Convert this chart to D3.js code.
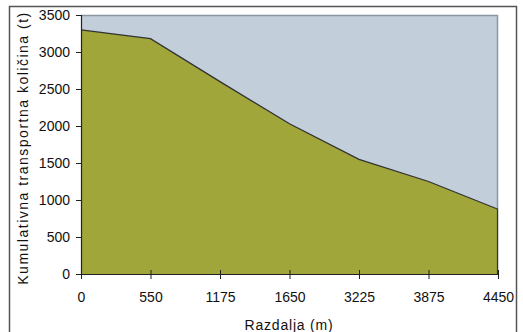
<!DOCTYPE html>
<html><head><meta charset="utf-8">
<script src="https://cdn.jsdelivr.net/npm/d3@7"></script>
<style>body{margin:0;background:#fff}svg{display:block}text{font-family:"Liberation Sans",Arial,sans-serif}</style>
</head><body><div id="c"></div>
<script>
const categories = ["0","550","1175","1650","3225","3875","4450"];
const values = [3300,3180,2600,2030,1550,1250,875];
const yTicks = [0,500,1000,1500,2000,2500,3000,3500];
const xTitle = "Razdalja (m)";
const yTitle = "Kumulativna transportna količina (t)";

const W=523,H=332;
const m={l:81,t:15,r:498,b:274};
const svg=d3.select("#c").append("svg").attr("width",W).attr("height",H);
svg.append("rect").attr("x",9.5).attr("y",6.5).attr("width",507).attr("height",340)
  .attr("fill","#fff").attr("stroke","#555").attr("stroke-width",1.5);

const x=d3.scalePoint().domain(categories).range([m.l,m.r]);
const y=d3.scaleLinear().domain([0,3500]).range([m.b,m.t]);

svg.append("rect").attr("x",m.l).attr("y",m.t).attr("width",m.r-m.l).attr("height",m.b-m.t)
  .attr("fill","#c2cfdb");
svg.append("path").attr("d",`M${m.l},${m.t+0.5}H${m.r-0.5}V${m.b}`).attr("fill","none")
  .attr("stroke","#8a96a2").attr("stroke-width",1.5);

const data=categories.map((c,i)=>({c,v:values[i]}));
const area=d3.area().x(d=>x(d.c)).y0(y(0)).y1(d=>y(d.v));
svg.append("path").datum(data).attr("d",area).attr("fill","#a0a63a");
const line=d3.line().x(d=>x(d.c)).y(d=>y(d.v));
svg.append("path").datum(data).attr("d",line).attr("fill","none").attr("stroke","#333").attr("stroke-width",1.3);
svg.append("line").attr("x1",m.r-0.5).attr("x2",m.r-0.5).attr("y1",y(values[values.length-1])).attr("y2",m.b)
  .attr("stroke","#333").attr("stroke-width",1.2);

const ya=svg.append("g").attr("transform",`translate(${m.l},0)`)
  .call(d3.axisLeft(y).tickValues(yTicks).tickSize(5).tickPadding(6).tickFormat(d3.format("d")));
ya.select(".domain").attr("stroke","#222").attr("stroke-width",1.2);
ya.selectAll(".tick line").attr("stroke","#222");
ya.selectAll("text").attr("font-size",14).attr("fill","#111").attr("font-family","Liberation Sans, Arial, sans-serif");

const xa=svg.append("g").attr("transform",`translate(0,${m.b})`)
  .call(d3.axisBottom(x).tickSizeInner(5).tickSizeOuter(0).tickPadding(13));
xa.select(".domain").attr("stroke","#222").attr("stroke-width",1.2);
xa.selectAll(".tick line").attr("stroke","#222").attr("y1",-4).attr("y2",5);
xa.selectAll("text").attr("font-size",14).attr("fill","#111").attr("font-family","Liberation Sans, Arial, sans-serif");

svg.append("text").attr("x",289).attr("y",330).attr("text-anchor","middle")
  .attr("font-size",14).attr("letter-spacing",0.8).attr("fill","#111").text(xTitle);
svg.append("text").attr("transform",`translate(28,148) rotate(-90)`).attr("text-anchor","middle")
  .attr("font-size",14).attr("letter-spacing",1.5).attr("fill","#111").text(yTitle);
</script></body></html>
